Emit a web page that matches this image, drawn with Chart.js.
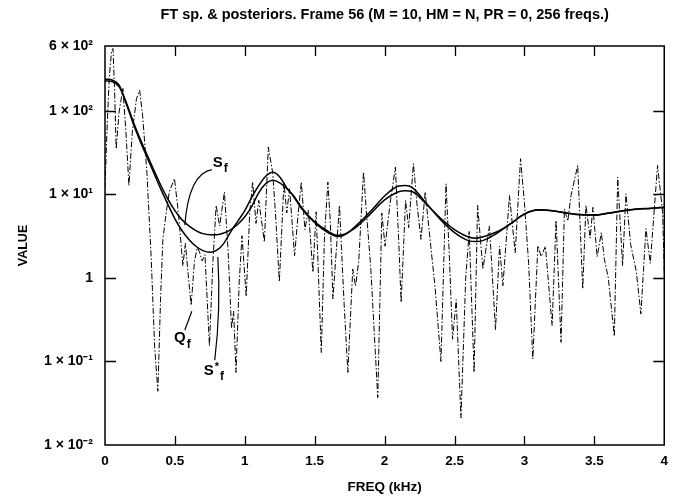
<!DOCTYPE html>
<html>
<head>
<meta charset="utf-8">
<script src="https://cdn.jsdelivr.net/npm/chart.js@4/dist/chart.umd.min.js"></script>
<style>
  html, body { margin: 0; padding: 0; background: #fff; }
  canvas { display: block; }
</style>
</head>
<body>
<canvas id="chart" width="676" height="498"></canvas>
<script>
// FT spectrum Q_f (frequency in kHz, value)
const freqQ = [
  0.000, 0.016, 0.031, 0.047, 0.057, 0.068, 0.080, 0.100, 0.128, 0.150,
  0.171, 0.195, 0.225, 0.248, 0.270, 0.300, 0.330, 0.355, 0.378, 0.398,
  0.414, 0.440, 0.460, 0.497, 0.525, 0.557, 0.575, 0.595, 0.616, 0.640,
  0.660, 0.676, 0.695, 0.715, 0.747, 0.772, 0.795, 0.820, 0.854, 0.880,
  0.905, 0.920, 0.937, 0.960, 0.980, 1.010, 1.035, 1.056, 1.080, 1.100,
  1.140, 1.168, 1.200, 1.222, 1.247, 1.280, 1.300, 1.320, 1.356, 1.380,
  1.404, 1.430, 1.455, 1.487, 1.510, 1.547, 1.570, 1.594, 1.612, 1.630,
  1.677, 1.710, 1.737, 1.772, 1.792, 1.815, 1.849, 1.872, 1.900, 1.951,
  1.980, 2.003, 2.040, 2.077, 2.100, 2.118, 2.150, 2.172, 2.206, 2.232,
  2.260, 2.290, 2.330, 2.360, 2.403, 2.439, 2.462, 2.486, 2.512, 2.546,
  2.580, 2.605, 2.640, 2.665, 2.703, 2.750, 2.793, 2.822, 2.846, 2.893,
  2.934, 2.972, 3.000, 3.030, 3.060, 3.096, 3.120, 3.150, 3.198, 3.226,
  3.262, 3.286, 3.310, 3.333, 3.381, 3.417, 3.440, 3.470, 3.490, 3.520,
  3.550, 3.571, 3.600, 3.643, 3.667, 3.702, 3.726, 3.760, 3.800, 3.833,
  3.869, 3.900, 3.952, 3.988, 4.000
];
const specQ = [
  12, 70, 260, 520, 560, 190, 35, 95, 186, 55,
  12.8, 55, 140, 177, 85, 18, 1.8, 0.15, 0.044, 0.6,
  2.9, 6.5, 10.8, 15.5, 6, 1.4, 2.6, 1.1, 0.47, 1.6,
  2.3, 2.05, 1.6, 1.9, 0.154, 1.6, 7.4, 4.2, 10.7, 2.2,
  0.25, 0.4, 0.074, 0.9, 3.2, 0.6, 6, 14.2, 4.5, 8.5,
  2.7, 37, 18, 5, 0.9, 14, 6, 11.7, 1.85, 5.5,
  14.1, 3.8, 6.5, 1.17, 6.2, 0.128, 3.2, 14.1, 4.5, 0.56,
  7.4, 0.5, 0.074, 1.28, 0.8, 1.6, 18.6, 5.5, 1.4, 0.037,
  6, 2.4, 8, 21.3, 3, 0.51, 8.5, 4, 23.4, 7.5,
  2.9, 10.7, 2.4, 0.8, 0.1, 13.4, 2, 0.185, 0.55, 0.021,
  1, 3.6, 0.074, 7.4, 1.28, 4.2, 0.24, 2.4, 0.81, 9.7,
  2, 26.8, 8, 1.5, 0.107, 2.44, 1.8, 2.4, 0.27, 4.9,
  0.17, 6.7, 4.8, 9.7, 22.3, 0.74, 7.4, 3, 7, 1.8,
  3.5, 1.7, 1, 0.2, 16.1, 1.4, 10.2, 2.5, 1.2, 0.37,
  3.9, 1.5, 22.3, 6.2, 1.2
];

// Posterior spectra S_f and S*_f on a common frequency grid (kHz)
const freqS = [
  0, 0.05, 0.1, 0.15, 0.2, 0.25, 0.3, 0.35, 0.4, 0.45,
  0.5, 0.55, 0.6, 0.65, 0.7, 0.75, 0.8, 0.85, 0.9, 0.95,
  1.0, 1.05, 1.1, 1.15, 1.2, 1.25, 1.3, 1.35, 1.4, 1.5,
  1.6, 1.66, 1.7, 1.8, 1.9, 2.0, 2.1, 2.15, 2.2, 2.3,
  2.4, 2.5, 2.6, 2.65, 2.7, 2.8, 2.9, 3.0, 3.1, 3.2,
  3.3, 3.4, 3.5, 3.6, 3.7, 3.8, 3.9, 4.0
];
const postS = [
  230, 225, 196, 130, 76, 47, 30, 19.5, 12.8, 8.8,
  6.4, 5.0, 4.2, 3.7, 3.4, 3.3, 3.3, 3.45, 3.8, 4.4,
  5.4, 7.2, 10.5, 13.5, 14.8, 13.8, 11.8, 9.6, 7.2, 4.7,
  3.6, 3.25, 3.3, 4.1, 5.9, 8.6, 10.8, 11.1, 10.8, 7.6,
  5.2, 3.8, 3.1, 3.0, 3.1, 3.55, 4.45, 5.8, 6.5, 6.4,
  6.0, 5.75, 5.7, 6.0, 6.4, 6.7, 6.85, 7.05
];
const postSstar = [
  240, 235, 205, 125, 72, 44, 28, 18, 11.5, 7.6,
  5.1, 3.7, 2.9, 2.4, 2.13, 2.03, 2.15, 2.6, 3.6, 4.8,
  6.4, 9.3, 12.8, 16.5, 18.4, 16.2, 12, 9.4, 7.0, 4.6,
  3.45, 3.15, 3.2, 4.3, 6.3, 9.6, 12.6, 12.8, 12.0, 7.8,
  5.0, 3.5, 2.8, 2.73, 2.8, 3.4, 4.45, 5.85, 6.55, 6.4,
  6.0, 5.7, 5.65, 5.95, 6.35, 6.65, 6.8, 7.0
];

// Axis ticks
const xTicks = [0, 0.5, 1, 1.5, 2, 2.5, 3, 3.5, 4];
const xTickLabels = ['0', '0.5', '1', '1.5', '2', '2.5', '3', '3.5', '4'];
const yTicks = [0.01, 0.1, 1, 10, 100, 600];
const yTickLabels = ['1 × 10⁻²', '1 × 10⁻¹', '1', '1 × 10¹', '1 × 10²', '6 × 10²'];

// Curve names with leader lines, placed in data coordinates (kHz, value)
const curveTags = [
  { main: 'S', sup: '', sub: 'f', at: [0.807, 24],
    leader: [[0.764, 19.8], [0.60, 17.7], [0.571, 4.3]] },
  { main: 'Q', sup: '', sub: 'f', at: [0.536, 0.19],
    leader: [[0.571, 0.238], [0.60, 0.32], [0.621, 0.40]] },
  { main: 'S', sup: '*', sub: 'f', at: [0.742, 0.078],
    leader: [[0.785, 0.104], [0.829, 0.42], [0.807, 1.79]] }
];

const FONT = '"Liberation Sans", Arial, Helvetica, sans-serif';

const pts = (xs, ys) => xs.map((x, i) => ({ x: x, y: ys[i] }));

// Plot frame with inward tick marks on all four sides
const framePlugin = {
  id: 'framePlugin',
  afterDatasetsDraw(chart) {
    const { ctx, chartArea: a, scales: { x, y } } = chart;
    ctx.save();
    ctx.strokeStyle = '#000';
    ctx.lineWidth = 1.5;
    ctx.strokeRect(a.left, a.top, a.right - a.left, a.bottom - a.top);
    ctx.lineWidth = 1.3;
    ctx.beginPath();
    xTicks.slice(1, -1).forEach(v => {
      const p = Math.round(x.getPixelForValue(v)) + 0.5;
      ctx.moveTo(p, a.bottom); ctx.lineTo(p, a.bottom - 9);
      ctx.moveTo(p, a.top); ctx.lineTo(p, a.top + 10);
    });
    yTicks.slice(1, -1).forEach(v => {
      const p = Math.round(y.getPixelForValue(v)) + 0.5;
      ctx.moveTo(a.left, p); ctx.lineTo(a.left + 11, p);
      ctx.moveTo(a.right, p); ctx.lineTo(a.right - 11, p);
    });
    ctx.stroke();
    ctx.restore();
  }
};

// Names of the three curves with their leader lines
const tagPlugin = {
  id: 'tagPlugin',
  afterDatasetsDraw(chart) {
    const { ctx, scales: { x, y } } = chart;
    const P = ([f, v]) => [x.getPixelForValue(f), y.getPixelForValue(v)];
    ctx.save();
    ctx.strokeStyle = '#000';
    ctx.fillStyle = '#000';
    ctx.lineWidth = 1.2;
    curveTags.forEach(t => {
      const [s, c, e] = t.leader.map(P);
      ctx.beginPath();
      ctx.moveTo(s[0], s[1]);
      ctx.quadraticCurveTo(c[0], c[1], e[0], e[1]);
      ctx.stroke();
      const [tx, ty] = P(t.at);
      ctx.font = 'bold 15px ' + FONT;
      ctx.textAlign = 'center';
      ctx.textBaseline = 'middle';
      ctx.fillText(t.main, tx, ty);
      const w = ctx.measureText(t.main).width;
      ctx.textAlign = 'left';
      let sx = tx + w / 2 + 1;
      if (t.sup) {
        ctx.font = 'bold 11px ' + FONT;
        ctx.fillText(t.sup, sx, ty - 4);
        sx += ctx.measureText(t.sup).width + 1;
      }
      ctx.font = 'bold 12px ' + FONT;
      ctx.fillText(t.sub, sx, ty + 6);
    });
    ctx.restore();
  }
};

new Chart(document.getElementById('chart'), {
  type: 'line',
  data: {
    datasets: [
      {
        label: 'Q_f',
        data: pts(freqQ, specQ),
        borderColor: '#000',
        borderWidth: 1,
        borderDash: [6, 2, 1.5, 2],
        pointRadius: 0,
        tension: 0,
        fill: false
      },
      {
        label: 'S_f',
        data: pts(freqS, postS),
        borderColor: '#000',
        borderWidth: 1.5,
        pointRadius: 0,
        cubicInterpolationMode: 'monotone',
        fill: false
      },
      {
        label: 'S*_f',
        data: pts(freqS, postSstar),
        borderColor: '#000',
        borderWidth: 1.5,
        pointRadius: 0,
        cubicInterpolationMode: 'monotone',
        fill: false
      }
    ]
  },
  options: {
    responsive: false,
    animation: false,
    devicePixelRatio: 1,
    layout: { padding: { top: 0, right: 10.5, bottom: 0, left: 0 } },
    plugins: {
      legend: { display: false },
      tooltip: { enabled: false },
      title: {
        display: true,
        fullSize: false,
        text: 'FT sp. & posteriors. Frame 56 (M = 10, HM = N, PR = 0, 256 freqs.)',
        color: '#000',
        font: { family: FONT, size: 14.5, weight: 'bold' },
        padding: { top: 6, bottom: 22.6 }
      }
    },
    scales: {
      x: {
        type: 'linear',
        min: 0,
        max: 4,
        afterFit(scale) { scale.height = 53; },
        afterBuildTicks(scale) { scale.ticks = xTicks.map(v => ({ value: v })); },
        grid: { display: false, drawTicks: false },
        border: { display: false },
        ticks: {
          color: '#000',
          padding: 8,
          maxRotation: 0,
          autoSkip: false,
          font: { family: FONT, size: 13.5, weight: 'bold' },
          callback: (v) => xTickLabels[xTicks.indexOf(v)]
        },
        title: {
          display: true,
          text: 'FREQ (kHz)',
          color: '#000',
          font: { family: FONT, size: 13.5, weight: 'bold' },
          padding: { top: 0, bottom: 3 }
        }
      },
      y: {
        type: 'logarithmic',
        min: 0.01,
        max: 600,
        afterFit(scale) { scale.width = 105; },
        afterBuildTicks(scale) { scale.ticks = yTicks.map(v => ({ value: v })); },
        grid: { display: false, drawTicks: false },
        border: { display: false },
        ticks: {
          color: '#000',
          padding: 12,
          autoSkip: false,
          font: { family: FONT, size: 14, weight: 'bold' },
          callback: (v) => yTickLabels[yTicks.indexOf(v)]
        },
        title: {
          display: true,
          text: 'VALUE',
          color: '#000',
          font: { family: FONT, size: 12.5, weight: 'bold' },
          padding: { top: 16, bottom: 0 }
        }
      }
    }
  },
  plugins: [framePlugin, tagPlugin]
});
</script>
</body>
</html>
